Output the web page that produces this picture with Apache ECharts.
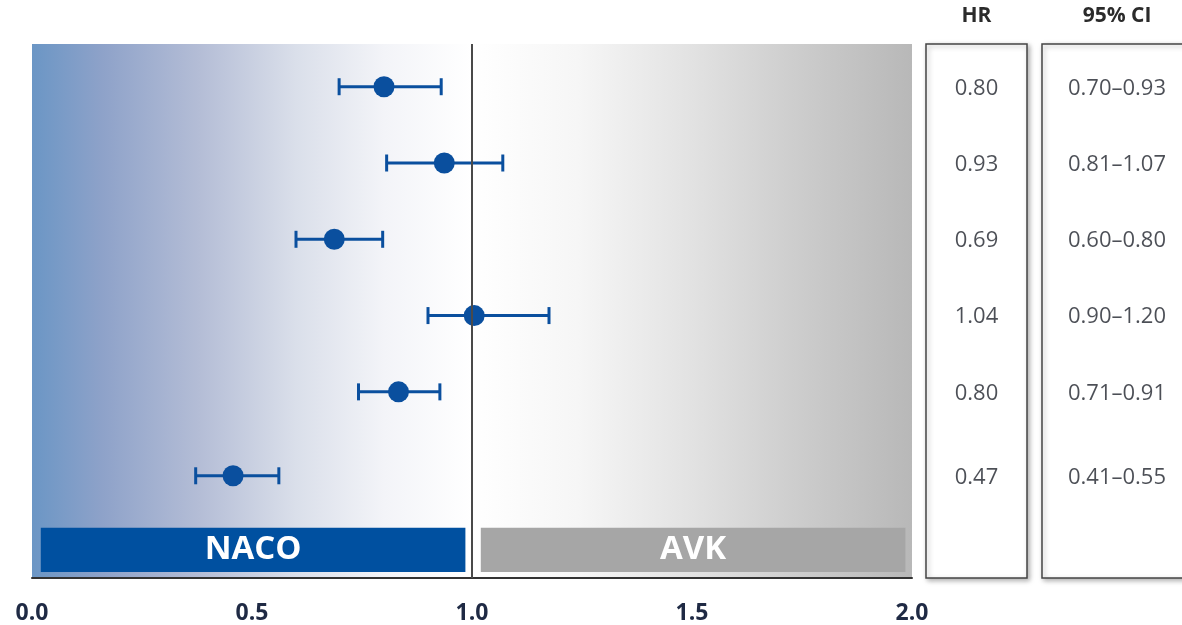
<!DOCTYPE html>
<html>
<head>
<meta charset="utf-8">
<script src="https://cdn.jsdelivr.net/npm/echarts@6/dist/echarts.min.js"></script>
<style>
  html, body { margin: 0; padding: 0; background: #fff; }
  #chart { width: 1182px; height: 625px; }
</style>
</head>
<body>
<div id="chart"></div>
<script>
// row positions on the y axis (1 = first row)
const rows = [1, 2, 3, 4, 5, 6.1];
// plotted hazard ratio and CI ends (as drawn)
const hrPlot = [0.80, 0.937, 0.687, 1.005, 0.833, 0.457];
const ciLow = [0.698, 0.806, 0.60, 0.90, 0.742, 0.372];
const ciHigh = [0.93, 1.07, 0.797, 1.175, 0.927, 0.561];
// table texts
const hrText = ['0.80', '0.93', '0.69', '1.04', '0.80', '0.47'];
const ciText = ['0.70–0.93', '0.81–1.07', '0.60–0.80', '0.90–1.20', '0.71–0.91', '0.41–0.55'];
const xTicks = [0, 0.5, 1.0, 1.5, 2.0];
const groups = ['NACO', 'AVK'];

const blue = '#0a4f9e';
const font = '"Open Sans", "Liberation Sans", sans-serif';

const chart = echarts.init(document.getElementById('chart'));
window.addEventListener('resize', () => chart.resize());

const yBase = { type: 'value', min: 0.44, max: 7.44, inverse: true, show: false };

// table column boxes
function tableGrid(left, width) {
  return {
    left, width, top: 44, bottom: 47, show: true, outerBoundsMode: 'none', containLabel: false,
    backgroundColor: '#fff', borderColor: '#444', borderWidth: 1.5,
    shadowBlur: 5, shadowColor: 'rgba(0,0,0,0.3)', shadowOffsetX: 2, shadowOffsetY: 2
  };
}
function tableAxis(idx, name) {
  return {
    gridIndex: idx, type: 'value', min: 0, max: 1, position: 'top',
    name, nameLocation: 'middle', nameGap: 17,
    nameTextStyle: { fontSize: 21, fontWeight: 'bold', color: '#2b2b2b', fontFamily: font },
    axisLine: { show: false }, axisTick: { show: false }, axisLabel: { show: false }, splitLine: { show: false }
  };
}
function tableSeries(idx, texts) {
  return {
    type: 'scatter',
    xAxisIndex: idx, yAxisIndex: idx,
    symbolSize: 1,
    itemStyle: { color: 'transparent' },
    label: {
      show: true, position: 'inside', formatter: p => p.value[2],
      fontSize: 22, color: '#1f232c', fontFamily: font
    },
    data: rows.map((r, i) => [0.5, r + 0.02, texts[i]])
  };
}

const option = {
  animation: false,
  grid: [
    {
      left: 32, right: 270, top: 44, bottom: 47, show: true, borderWidth: 0,
      outerBoundsMode: 'none', containLabel: false,
      backgroundColor: new echarts.graphic.LinearGradient(0, 0, 1, 0, [
        { offset: 0, color: '#6b96c5' },
        { offset: 0.08, color: '#8ea2c9' },
        { offset: 0.19, color: '#b4bdd6' },
        { offset: 0.3, color: '#dadfea' },
        { offset: 0.4, color: '#f3f4f8' },
        { offset: 0.5, color: '#ffffff' },
        { offset: 0.62, color: '#f6f6f6' },
        { offset: 0.75, color: '#e2e2e2' },
        { offset: 0.88, color: '#cbcbcb' },
        { offset: 1, color: '#b8b8b8' }
      ])
    },
    tableGrid(926, 101),
    tableGrid(1042, 150)
  ],
  xAxis: [
    {
      gridIndex: 0, type: 'value', min: 0, max: 2, interval: 0.5,
      axisLine: { show: true, lineStyle: { color: '#333', width: 2 } },
      axisTick: { show: false },
      splitLine: { show: false },
      axisLabel: {
        margin: 24, fontSize: 23, fontWeight: 'bold', color: '#1f2a44', fontFamily: font,
        formatter: v => xTicks.includes(v) ? v.toFixed(1) : ''
      }
    },
    tableAxis(1, 'HR'),
    tableAxis(2, '95% CI')
  ],
  yAxis: [
    Object.assign({ gridIndex: 0 }, yBase),
    Object.assign({ gridIndex: 1 }, yBase),
    Object.assign({ gridIndex: 2 }, yBase)
  ],
  series: [
    {
      // error bars
      type: 'custom',
      xAxisIndex: 0, yAxisIndex: 0,
      data: rows.map((r, i) => [ciLow[i], ciHigh[i], r]),
      renderItem: (params, api) => {
        const a = api.coord([api.value(0), api.value(2)]);
        const b = api.coord([api.value(1), api.value(2)]);
        const h = 8.5;
        const style = { stroke: blue, lineWidth: 3 };
        return {
          type: 'group',
          children: [
            { type: 'line', shape: { x1: a[0], y1: a[1], x2: b[0], y2: b[1] }, style },
            { type: 'line', shape: { x1: a[0], y1: a[1] - h, x2: a[0], y2: a[1] + h }, style },
            { type: 'line', shape: { x1: b[0], y1: b[1] - h, x2: b[0], y2: b[1] + h }, style }
          ]
        };
      },
      z: 3,
      markArea: {
        silent: true,
        label: {
          position: 'inside', color: '#fff', fontSize: 33, fontWeight: 'bold', fontFamily: font
        },
        data: [
          [{ name: groups[0], xAxis: 0.02, yAxis: 6.78, itemStyle: { color: '#0050a0' } }, { xAxis: 0.985, yAxis: 7.36 }],
          [{ name: groups[1], xAxis: 1.02, yAxis: 6.78, itemStyle: { color: '#a6a6a6' } }, { xAxis: 1.985, yAxis: 7.36 }]
        ]
      },
      markLine: {
        silent: true, symbol: 'none',
        label: { show: false },
        lineStyle: { color: '#4a4a4a', width: 2, type: 'solid' },
        data: [{ xAxis: 1 }]
      }
    },
    {
      type: 'scatter',
      xAxisIndex: 0, yAxisIndex: 0,
      symbolSize: 21,
      itemStyle: { color: blue, opacity: 1 },
      data: rows.map((r, i) => [hrPlot[i], r]),
      z: 4
    },
    tableSeries(1, hrText),
    tableSeries(2, ciText)
  ]
};

chart.setOption(option);
</script>
</body>
</html>
